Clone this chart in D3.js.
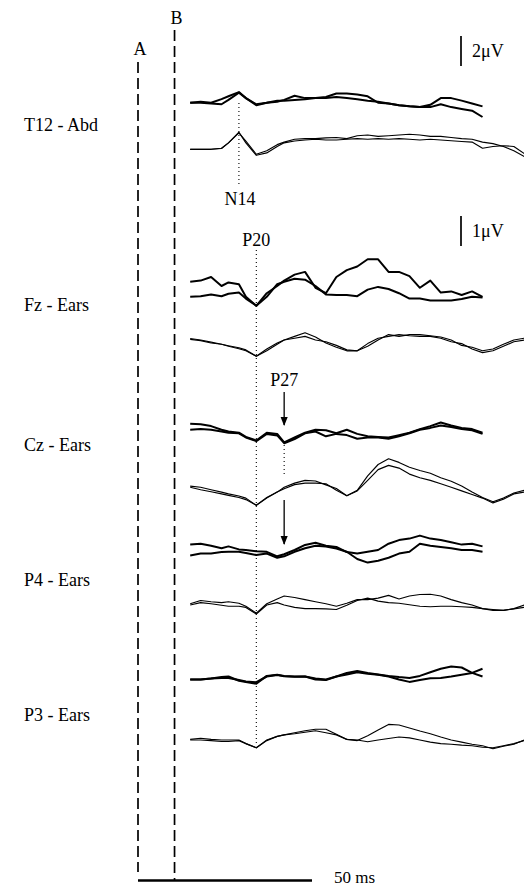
<!DOCTYPE html>
<html><head><meta charset="utf-8">
<script src="https://cdn.jsdelivr.net/npm/d3@7"></script>
<style>body{margin:0;background:#fff}svg{display:block}</style>
</head><body>
<svg id="chart" width="524" height="887"></svg>
<script>
// ---- data (time in ms after stimulus, amplitude in µV, positive down) ----
const timeThick = [0,3,6,9,11,14,16,19,22,25,27,30,33,36,39,42,45,48,51,54,57,60,63,66,69,72,75,78,81,84];
const timeThin  = [0,3,6,9,11,14,16,19,22,25,27,30,33,36,39,42,45,48,51,54,57,60,63,66,69,72,75,78,81,84,87,90,93,96];

const t12ThickA = [0.07,0,0.07,-0.17,-0.36,-0.64,-0.24,0.24,0.07,0,-0.12,-0.40,-0.24,-0.24,-0.31,-0.55,-0.55,-0.48,-0.36,0.07,0.12,0.24,0.31,0.36,0.21,-0.24,-0.24,-0.07,0.12,0.31];
const t12ThickB = [0.07,0.07,0.12,0.17,-0.12,-0.60,-0.24,0.17,0.07,-0.07,-0.07,-0.12,-0.17,-0.24,-0.24,-0.31,-0.24,-0.17,-0.07,0,0.12,0.24,0.31,0.36,0.36,0.17,0.36,0.48,0.60,1.02];
const t12ThinA  = [0,0,0,-0.07,-0.43,-1.14,-0.43,0.40,0.24,-0.19,-0.43,-0.55,-0.62,-0.67,-0.62,-0.62,-0.67,-0.71,-0.67,-0.71,-0.67,-0.71,-0.67,-0.62,-0.67,-0.62,-0.57,-0.52,-0.48,-0.07,-0.19,-0.24,-0.19,0.29];
const t12ThinB  = [0,0,0,-0.05,-0.43,-1.10,-0.55,0.33,0.10,-0.31,-0.48,-0.67,-0.71,-0.71,-0.76,-0.79,-0.71,-0.90,-0.95,-0.86,-0.90,-0.95,-1.00,-0.95,-0.86,-0.86,-0.79,-0.71,-0.67,-0.48,-0.38,-0.19,0.10,0.48];

const fzThickA = [-0.44,-0.48,-0.60,-0.30,-0.42,-0.36,0.06,0.36,-0.06,-0.30,-0.48,-0.68,-0.77,-0.24,-0.06,-0.60,-0.83,-0.95,-1.19,-1.19,-0.77,-0.77,-0.63,-0.24,-0.48,-0.08,-0.12,0,-0.12,0.06];
const fzThickB = [0.06,0.04,-0.02,0.04,-0.04,-0.08,0.12,0.36,0.06,-0.36,-0.44,-0.54,-0.51,-0.30,-0.02,0,0,0.04,-0.18,-0.27,-0.20,-0.06,0.12,0.12,0.18,0.18,0.18,0.13,0.06,0.08];
const fzThinA  = [-0.02,0.02,0.10,0.14,0.19,0.26,0.33,0.54,0.30,0.10,0,-0.12,-0.24,-0.10,0.10,0.24,0.36,0.36,0.12,-0.06,-0.12,-0.18,-0.14,-0.12,-0.12,-0.06,0.06,0.12,0.30,0.42,0.36,0.21,0.06,0];
const fzThinB  = [-0.05,0,0.07,0.14,0.21,0.29,0.36,0.54,0.36,0.14,0,-0.06,-0.12,0,0.06,0.18,0.33,0.36,0.21,0,-0.18,-0.12,-0.18,-0.18,-0.14,-0.10,0,0.18,0.24,0.36,0.30,0.14,0,-0.06];

const czThickA = [-0.32,-0.30,-0.24,-0.12,-0.06,-0.02,0.12,0.24,-0.02,0.02,0.30,0.14,-0.02,-0.12,-0.10,0,-0.12,0.02,0.10,0.12,0.14,0.06,-0.02,-0.14,-0.24,-0.36,-0.26,-0.18,-0.14,-0.02];
const czThickB = [-0.12,-0.14,-0.12,-0.06,-0.02,0,0.14,0.26,0.02,0.07,0.33,0.19,0,-0.06,0.10,0.02,0.06,0.18,0.14,0.14,0.18,0.10,0,-0.12,-0.18,-0.26,-0.21,-0.14,-0.10,0.02];
const czThinA  = [-0.02,0.02,0.10,0.18,0.24,0.31,0.38,0.62,0.38,0.18,0.02,-0.12,-0.21,-0.19,-0.06,0.06,0.30,0.12,-0.36,-0.74,-0.93,-0.81,-0.65,-0.54,-0.45,-0.30,-0.18,-0.02,0.18,0.36,0.50,0.38,0.21,0.12];
const czThinB  = [0.02,0.10,0.17,0.24,0.29,0.36,0.43,0.62,0.36,0.18,0.07,-0.07,-0.12,-0.12,-0.10,0.12,0.30,0.14,-0.21,-0.57,-0.71,-0.62,-0.42,-0.30,-0.21,-0.10,0.02,0.14,0.26,0.38,0.54,0.42,0.24,0.18];

const p4ThickA = [-0.18,-0.21,-0.14,-0.06,-0.12,-0.02,0,0.04,0.06,0.21,0.14,0,-0.17,-0.24,-0.14,-0.10,0.07,0.12,0.06,0,-0.21,-0.33,-0.38,-0.48,-0.38,-0.33,-0.26,-0.18,-0.21,-0.12];
const p4ThickB = [0.18,0.12,0.12,0.07,0.06,0.06,0.10,0.17,0.12,0.26,0.21,0.06,-0.06,-0.14,-0.12,-0.05,0.06,0.30,0.42,0.36,0.26,0.12,0.06,-0.21,-0.14,-0.10,-0.06,0,0,0.06];
const p4ThinA  = [-0.04,-0.15,-0.11,-0.08,-0.11,-0.06,0.04,0.27,-0.04,-0.20,-0.30,-0.25,-0.18,-0.11,-0.04,0.04,-0.06,-0.18,-0.18,-0.23,-0.32,-0.20,-0.30,-0.35,-0.36,-0.30,-0.18,-0.08,0,0.12,0.15,0.18,0.12,0];
const p4ThinB  = [0,-0.08,-0.04,0.01,0.04,0.04,0.08,0.30,0,-0.08,0,0.08,0.12,0.12,0.13,0.15,0.01,-0.15,-0.23,-0.13,-0.08,-0.06,-0.01,0.04,0.06,0.04,0.04,0.06,0.08,0.12,0.18,0.18,0.13,0.08];

const p3ThickA = [0.04,0.04,0.01,-0.04,-0.06,0.08,0.12,0.18,-0.08,-0.12,-0.08,-0.06,-0.06,0.04,0.06,-0.06,-0.18,-0.24,-0.18,-0.13,-0.08,-0.04,-0.01,-0.08,-0.20,-0.32,-0.39,-0.36,-0.18,-0.06];
const p3ThickB = [0.04,0.04,0.01,-0.01,-0.01,0.06,0.11,0.13,-0.06,-0.11,-0.07,-0.05,-0.06,0.01,0.04,-0.06,-0.13,-0.20,-0.15,-0.12,-0.06,0.04,0.12,0.06,0,-0.01,-0.06,-0.12,-0.18,-0.32];
const p3ThinA  = [-0.02,-0.06,-0.02,0,0,0,0.12,0.26,0,-0.12,-0.17,-0.24,-0.31,-0.36,-0.36,-0.19,-0.02,0.02,-0.14,-0.33,-0.52,-0.50,-0.40,-0.30,-0.21,-0.10,0,0.07,0.14,0.19,0.29,0.21,0.14,0];
const p3ThinB  = [0,0,0.02,0.05,0.05,0.02,0.12,0.26,0.02,-0.12,-0.17,-0.21,-0.26,-0.31,-0.24,-0.17,-0.02,0,0.06,0,-0.05,-0.10,-0.07,0,0.07,0.12,0.14,0.17,0.19,0.24,0.26,0.19,0.12,0.02];

const channelLabels = ["T12 - Abd","Fz - Ears","Cz - Ears","P4 - Ears","P3 - Ears"];
const peakLabels = [{name:"N14", t:14},{name:"P20", t:19},{name:"P27", t:27}];
const markerLabels = [{name:"A", t:-15},{name:"B", t:-4.5}];
const timeBarMs = 50;
const voltBars = [{label:"2\u03bcV", uv:2},{label:"1\u03bcV", uv:1}];

// ---- layout ----
const svg = d3.select("#chart");
const FONT = "'Liberation Serif','Times New Roman',serif";
const FS = 18;
const x = d3.scaleLinear().domain([0, 50]).range([190.2, 364.2]);

const rows = [
  {label:channelLabels[0], labelY:125, pxPerUV:15, thick:{base:101.7, a:t12ThickA, b:t12ThickB}, thin:{base:149.3, a:t12ThinA, b:t12ThinB}},
  {label:channelLabels[1], labelY:305, pxPerUV:30, thick:{base:295, a:fzThickA, b:fzThickB}, thin:{base:340, a:fzThinA, b:fzThinB}},
  {label:channelLabels[2], labelY:445, pxPerUV:30, thick:{base:433.3, a:czThickA, b:czThickB}, thin:{base:486.7, a:czThinA, b:czThinB}},
  {label:channelLabels[3], labelY:580, pxPerUV:30, thick:{base:550, a:p4ThickA, b:p4ThickB}, thin:{base:605, a:p4ThinA, b:p4ThinB}},
  {label:channelLabels[4], labelY:715, pxPerUV:30, thick:{base:678.3, a:p3ThickA, b:p3ThickB}, thin:{base:740, a:p3ThinA, b:p3ThinB}}
];

// vertical dashed markers A, B
const markerGeom = [{top:62, bottom:872, labelY:55}, {top:30, bottom:880, labelY:24}];
markerLabels.forEach((m,i)=>{
  const g = markerGeom[i];
  svg.append("line").attr("x1",x(m.t)).attr("x2",x(m.t)).attr("y1",g.top).attr("y2",g.bottom)
    .attr("stroke","#000").attr("stroke-width",1.7).attr("stroke-dasharray","11,5");
  svg.append("text").attr("x",x(m.t)+2).attr("y",g.labelY).attr("text-anchor","middle")
    .attr("font-family",FONT).attr("font-size",FS).text(m.name);
});

// time scale bar
svg.append("line").attr("x1",x(-15)).attr("x2",x(-15+timeBarMs)).attr("y1",880.5).attr("y2",880.5)
  .attr("stroke","#000").attr("stroke-width",2.4);
svg.append("text").attr("x",x(-15+timeBarMs)+22).attr("y",883).attr("font-family",FONT).attr("font-size",17).text(timeBarMs+" ms");

// channel labels
rows.forEach(r=>{
  svg.append("text").attr("x",24).attr("y",r.labelY+6).attr("font-family",FONT).attr("font-size",FS).text(r.label);
});

// traces
function drawPair(times, tr, k, width){
  const y = d3.scaleLinear().domain([0,1]).range([tr.base, tr.base + k]);
  const line = d3.line().x((d,i)=>x(times[i])).y(d=>y(d));
  [tr.a, tr.b].forEach(vals=>{
    svg.append("path").attr("d", line(vals)).attr("fill","none").attr("stroke","#000")
      .attr("stroke-width",width).attr("stroke-linejoin","round");
  });
  return y;
}
rows.forEach(r=>{
  drawPair(timeThick, r.thick, r.pxPerUV, 2);
  drawPair(timeThin, r.thin, r.pxPerUV, 1.15);
});

// voltage scale bars
const vbGeom = [{top:36, k:15}, {top:216, k:30}];
voltBars.forEach((v,i)=>{
  const g = vbGeom[i];
  svg.append("line").attr("x1",461).attr("x2",461).attr("y1",g.top).attr("y2",g.top+v.uv*g.k)
    .attr("stroke","#000").attr("stroke-width",1.7);
  svg.append("text").attr("x",472).attr("y",g.top+v.uv*g.k/2+6).attr("font-family",FONT).attr("font-size",FS).text(v.label);
});

// peak markers
const dotted = (xx,y1,y2)=>svg.append("line").attr("x1",xx).attr("x2",xx).attr("y1",y1).attr("y2",y2)
  .attr("stroke","#000").attr("stroke-width",1.1).attr("stroke-dasharray","1,3");
dotted(x(peakLabels[0].t), 103, 186);
svg.append("text").attr("x",x(peakLabels[0].t)+1).attr("y",205).attr("text-anchor","middle").attr("font-family",FONT).attr("font-size",FS).text(peakLabels[0].name);
dotted(x(peakLabels[1].t), 250, 745);
svg.append("text").attr("x",x(peakLabels[1].t)).attr("y",246).attr("text-anchor","middle").attr("font-family",FONT).attr("font-size",FS).text(peakLabels[1].name);
dotted(x(peakLabels[2].t), 445, 474);
svg.append("text").attr("x",x(peakLabels[2].t)).attr("y",386).attr("text-anchor","middle").attr("font-family",FONT).attr("font-size",FS).text(peakLabels[2].name);

const defs = svg.append("defs");
defs.append("marker").attr("id","ah").attr("viewBox","0 0 10 10").attr("refX",9).attr("refY",5)
  .attr("markerWidth",7).attr("markerHeight",7).attr("orient","auto")
  .append("path").attr("d","M0,1 L10,5 L0,9 Z").attr("fill","#000");
const arrow = (xx,y1,y2)=>svg.append("line").attr("x1",xx).attr("x2",xx).attr("y1",y1).attr("y2",y2)
  .attr("stroke","#000").attr("stroke-width",1.3).attr("marker-end","url(#ah)");
arrow(x(peakLabels[2].t), 392, 425);
arrow(x(peakLabels[2].t), 500, 544);
</script>
</body></html>
